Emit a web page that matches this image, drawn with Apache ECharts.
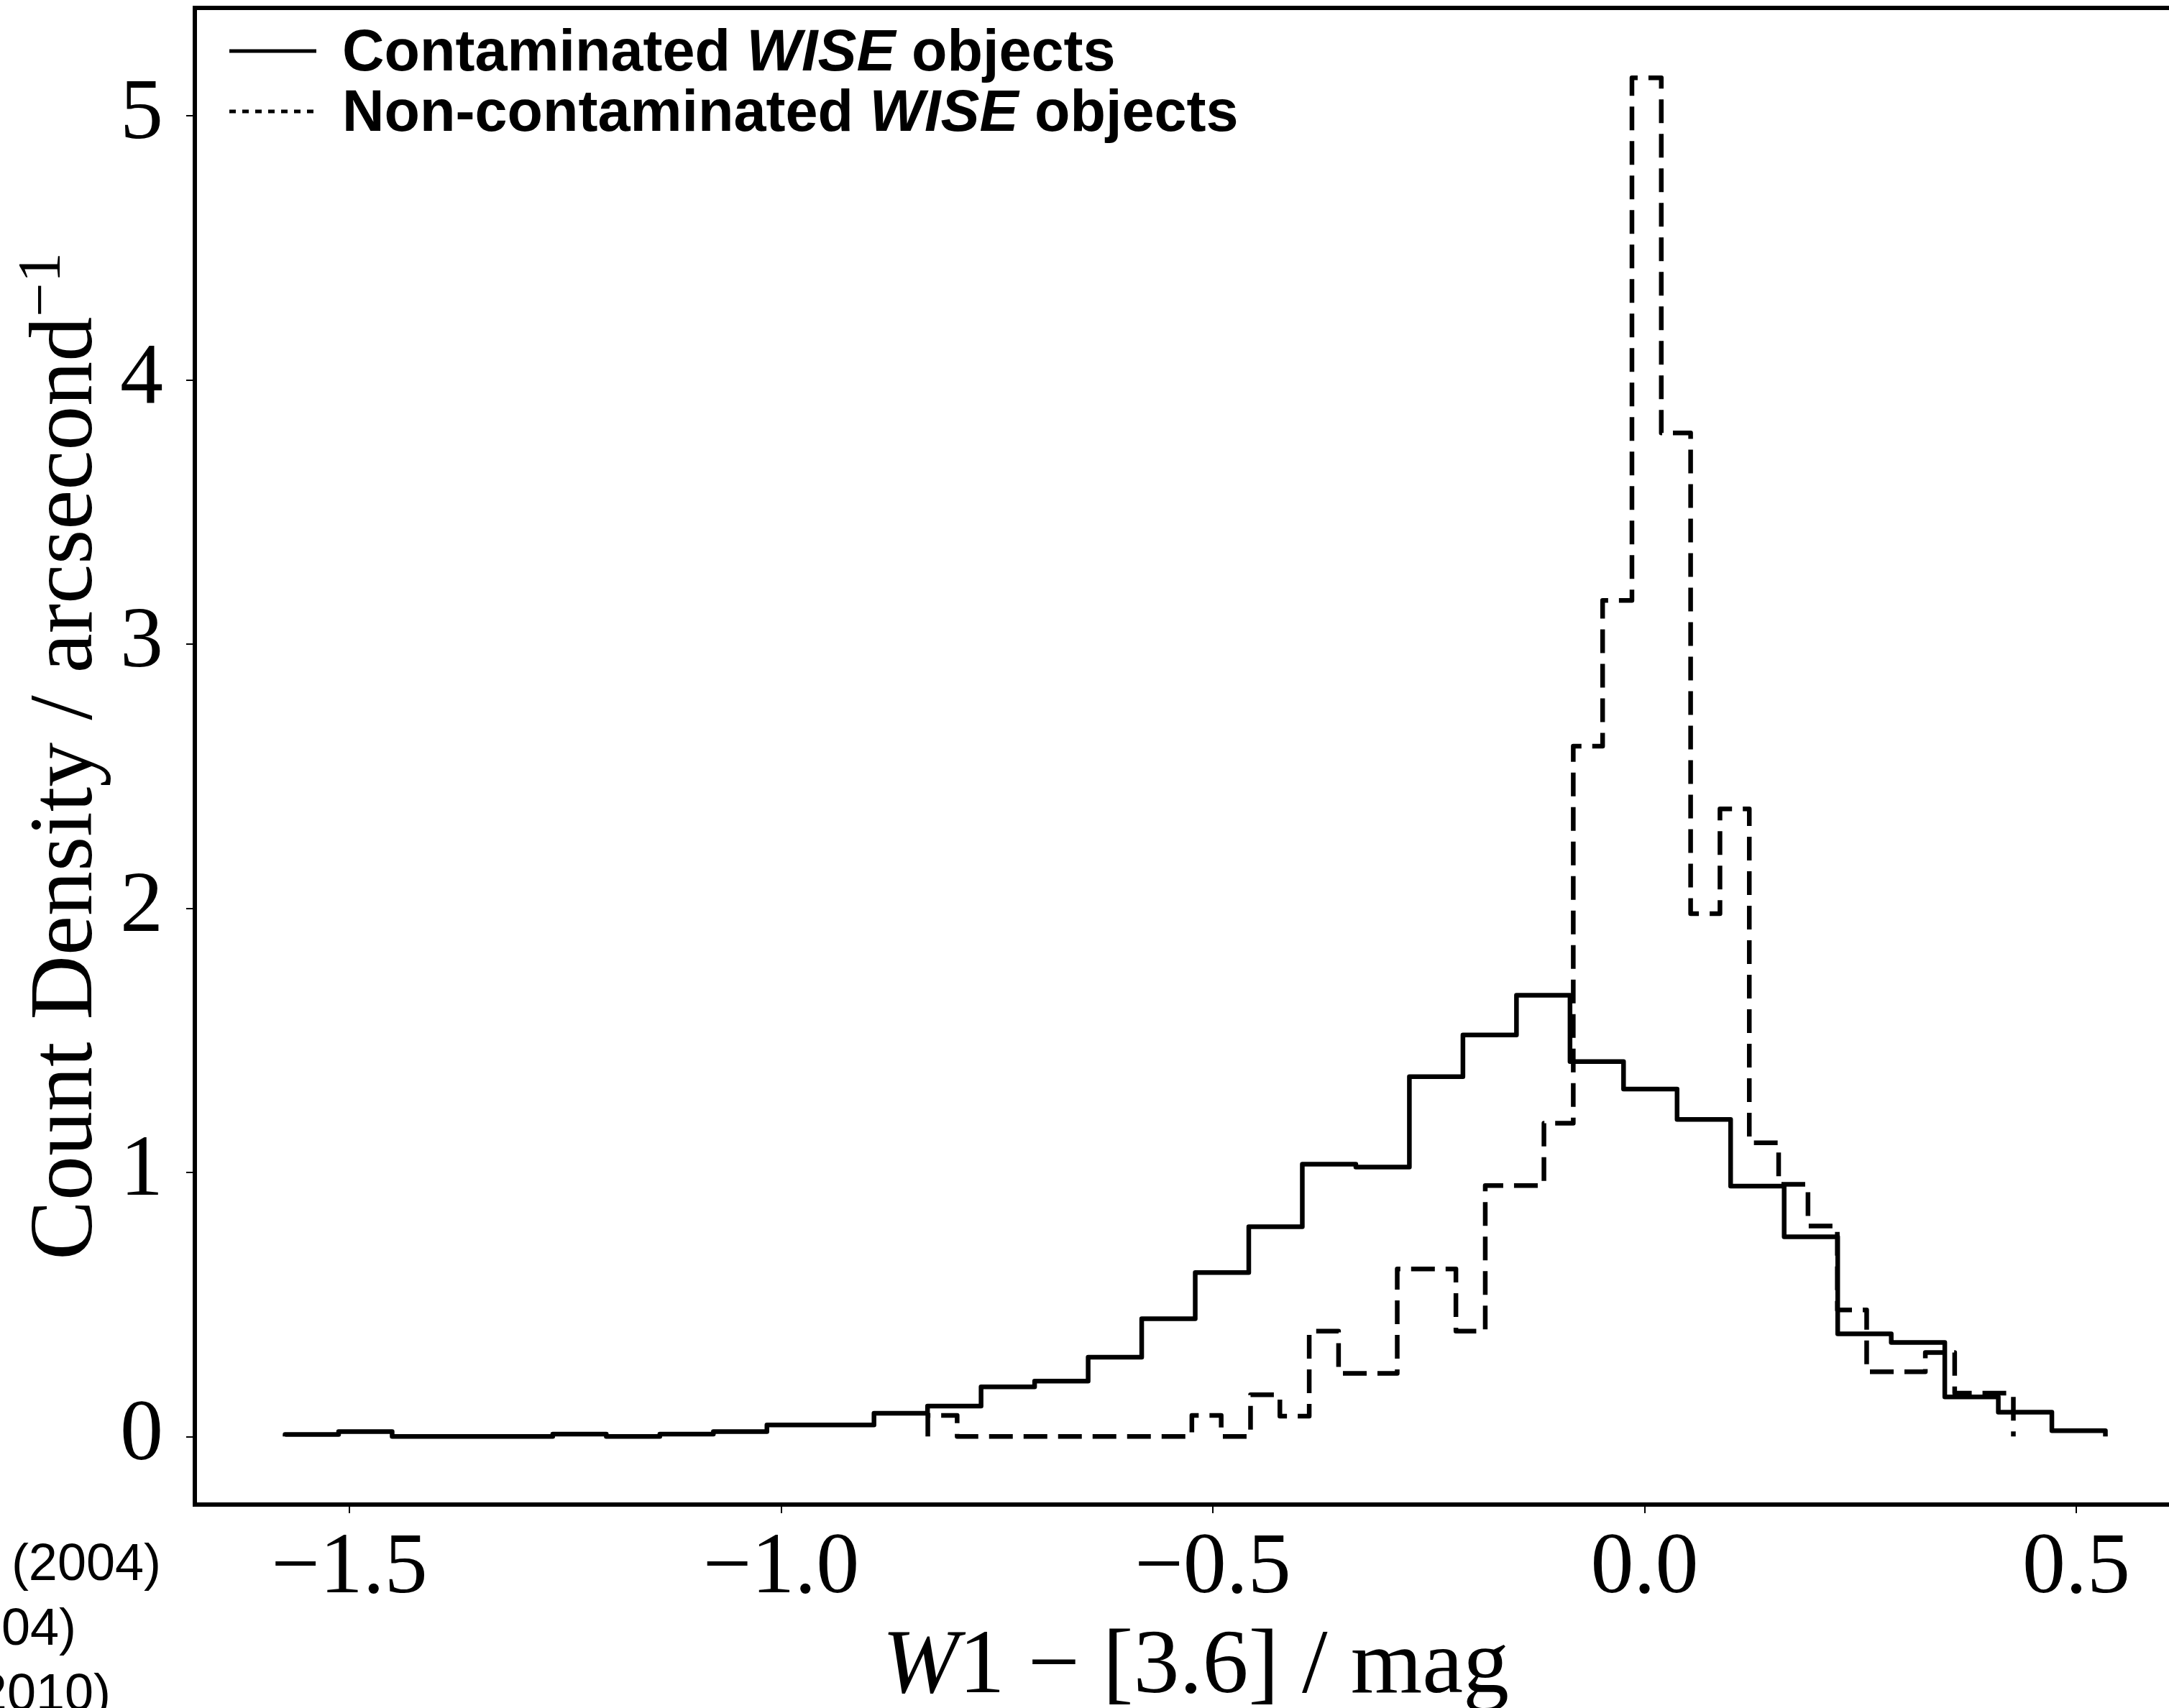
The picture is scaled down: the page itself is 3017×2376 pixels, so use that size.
<!DOCTYPE html>
<html>
<head>
<meta charset="utf-8">
<script src="https://cdn.jsdelivr.net/npm/echarts@6/dist/echarts.min.js"></script>
<style>
  html, body { margin: 0; padding: 0; background: #fff; }
  #chart { width: 3017px; height: 2376px; }
</style>
</head>
<body>
<div id="chart"></div>
<script>
// ---- Data ----
// Contaminated WISE objects: 34 equal-width bins
const contaminatedRange = [-1.5745, 0.5337];
const contaminated = [0.008, 0.019, 0.000, 0.000, 0.000, 0.009, 0.000, 0.009, 0.019, 0.044,
  0.044, 0.088, 0.115, 0.188, 0.210, 0.300, 0.446, 0.621, 0.794, 1.031,
  1.020, 1.362, 1.520, 1.670, 1.419, 1.315, 1.200, 0.948, 0.756, 0.389,
  0.356, 0.150, 0.092, 0.022];

// Non-contaminated WISE objects: 37 equal-width bins
const nonContaminatedRange = [-0.8301, 0.4271];
const nonContaminated = [0.080, 0.000, 0.000, 0.000, 0.000, 0.000, 0.000, 0.000, 0.000, 0.080,
  0.000, 0.158, 0.077, 0.399, 0.239, 0.239, 0.634, 0.634, 0.399, 0.950,
  0.950, 1.186, 2.613, 3.165, 5.143, 3.799, 1.979, 2.376, 1.112, 0.955,
  0.797, 0.479, 0.245, 0.245, 0.318, 0.164, 0.164];

const xTicks = [-1.5, -1.0, -0.5, 0.0, 0.5];
const yTicks = [0, 1, 2, 3, 4, 5];
const xLimits = [-1.679, 0.639];
const yLimits = [-0.2575, 5.4075];

const legendLabels = ['Contaminated', 'Non-contaminated'];
const legendSuffix = ['WISE', 'objects'];
const sideTexts = ['(2004)', '(2004)', '(2010)'];

// ---- Build step outlines (matplotlib histtype="step") ----
function stepOutline(range, values) {
  const n = values.length;
  const w = (range[1] - range[0]) / n;
  const pts = [[range[0], 0]];
  for (let i = 0; i < n; i++) pts.push([range[0] + i * w, values[i]]);
  pts.push([range[1], values[n - 1]]);
  pts.push([range[1], 0]);
  return pts;
}

const SERIF = "'Liberation Serif', 'Times New Roman', serif";
const SANS = "'Liberation Sans', Arial, Helvetica, sans-serif";
const minus = s => s.replace('-', '\u2212');

const chart = echarts.init(document.getElementById('chart'), null, { renderer: 'canvas' });

const legendRich = {
  b: { fontFamily: SANS, fontSize: 81, fontWeight: 'bold', fill: '#000', lineHeight: 92 },
  bi: { fontFamily: SANS, fontSize: 81, fontWeight: 'bold', fontStyle: 'italic', fill: '#000', lineHeight: 92 }
};

const option = {
  animation: false,
  backgroundColor: '#ffffff',
  grid: {
    left: 271, top: 11, width: 2784, height: 2082,
    containLabel: false,
    outerBoundsMode: 'none',
    show: true, borderColor: '#000', borderWidth: 6, backgroundColor: 'transparent'
  },
  xAxis: {
    type: 'value',
    min: xLimits[0], max: xLimits[1],
    axisLine: { show: false, onZero: false },
    splitLine: { show: false },
    axisTick: { show: true, customValues: xTicks, length: 12, inside: false, lineStyle: { color: '#000', width: 2 } },
    axisLabel: {
      customValues: xTicks,
      formatter: v => minus(Number(v).toFixed(1)),
      fontFamily: SERIF, fontSize: 120, color: '#000', margin: 30
    },
    name: '{i|W}{n|1 \u2212 [3.6] / mag}',
    nameLocation: 'middle',
    nameGap: 163,
    nameMoveOverlap: false,
    nameTextStyle: {
      rich: {
        i: { fontFamily: SERIF, fontSize: 128, fontStyle: 'italic', color: '#000' },
        n: { fontFamily: SERIF, fontSize: 128, color: '#000' }
      }
    }
  },
  yAxis: {
    type: 'value',
    min: yLimits[0], max: yLimits[1],
    axisLine: { show: false, onZero: false },
    splitLine: { show: false },
    axisTick: { show: true, customValues: yTicks, length: 12, inside: false, lineStyle: { color: '#000', width: 2 } },
    axisLabel: {
      customValues: yTicks,
      formatter: v => String(v),
      fontFamily: SERIF, fontSize: 120, color: '#000', margin: 44
    },
    name: '{n|Count Density / arcsecond}{s|\u22121}',
    nameLocation: 'middle',
    nameGap: 102,
    nameMoveOverlap: false,
    nameTextStyle: {
      rich: {
        n: { fontFamily: SERIF, fontSize: 124, lineHeight: 150, color: '#000' },
        s: { fontFamily: SERIF, fontSize: 84, lineHeight: 84, verticalAlign: 'top', color: '#000' }
      }
    }
  },
  series: [
    {
      name: 'Contaminated WISE objects',
      type: 'line',
      step: 'end',
      data: stepOutline(contaminatedRange, contaminated),
      showSymbol: false,
      lineStyle: { color: '#000', width: 6.5, join: 'round' },
      z: 3
    },
    {
      name: 'Non-contaminated WISE objects',
      type: 'line',
      step: 'end',
      data: stepOutline(nonContaminatedRange, nonContaminated),
      showSymbol: false,
      lineStyle: { color: '#000', width: 6.5, type: [33, 15], cap: 'butt', join: 'round' },
      z: 4
    }
  ],
  graphic: [
    // legend
    { type: 'line', shape: { x1: 319, y1: 71, x2: 440, y2: 71 }, style: { stroke: '#000', lineWidth: 5 } },
    { type: 'line', shape: { x1: 319, y1: 155, x2: 440, y2: 155 }, style: { stroke: '#000', lineWidth: 5, lineDash: [9, 9] } },
    {
      type: 'text', left: 476, top: 71 - 46 + 10,
      style: {
        text: '{b|' + legendLabels[0] + ' }{bi|' + legendSuffix[0] + '}{b| ' + legendSuffix[1] + '}',
        rich: legendRich
      }
    },
    {
      type: 'text', left: 476, top: 155 - 46 + 10,
      style: {
        text: '{b|' + legendLabels[1] + ' }{bi|' + legendSuffix[0] + '}{b| ' + legendSuffix[1] + '}',
        rich: legendRich
      }
    },
    // clipped text fragments at bottom-left (from a neighbouring panel)
    { type: 'text', x: 224, y: 2178, style: { text: sideTexts[0], font: '72px ' + SANS, fill: '#000', align: 'right', verticalAlign: 'middle' } },
    { type: 'text', x: 106, y: 2268, style: { text: sideTexts[1], font: '72px ' + SANS, fill: '#000', align: 'right', verticalAlign: 'middle' } },
    { type: 'text', x: 154, y: 2359, style: { text: sideTexts[2], font: '72px ' + SANS, fill: '#000', align: 'right', verticalAlign: 'middle' } }
  ]
};

chart.setOption(option);
</script>
</body>
</html>
